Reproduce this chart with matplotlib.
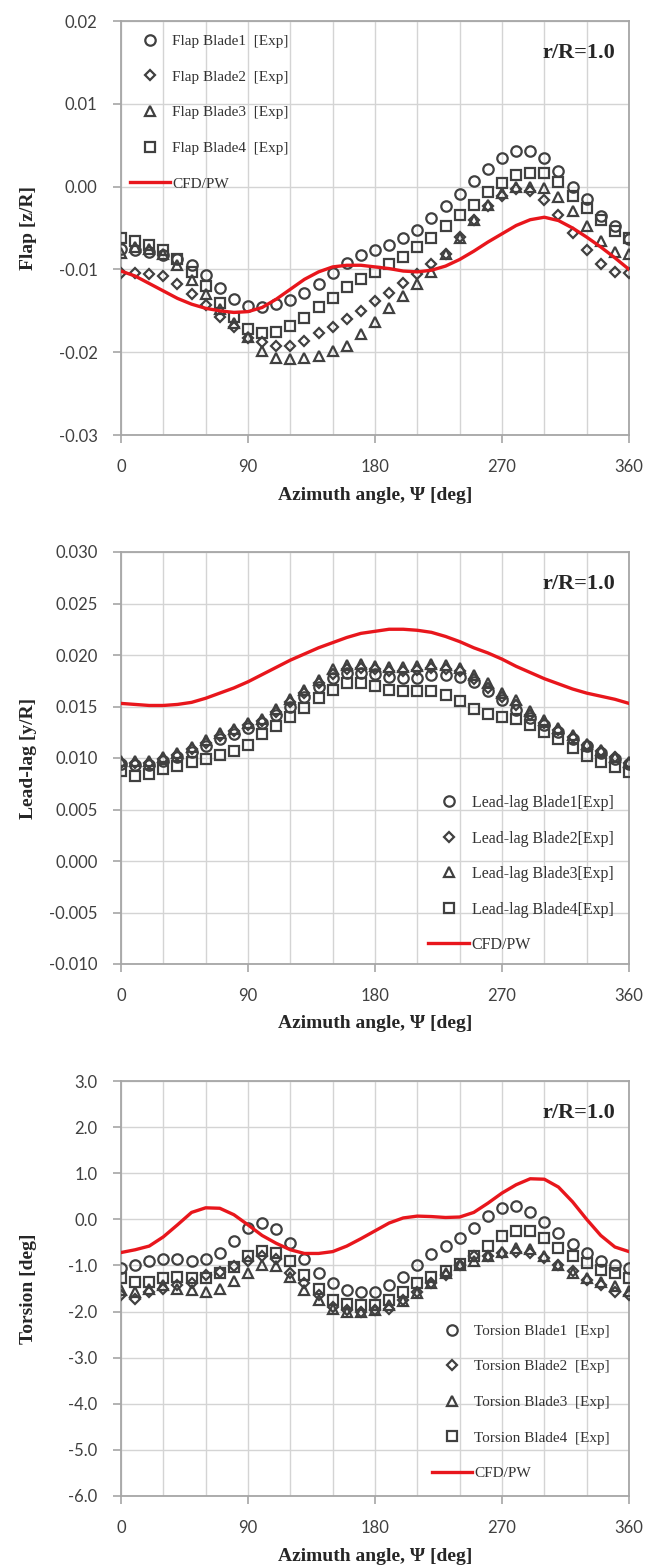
import matplotlib
matplotlib.use("Agg")
import matplotlib.pyplot as plt
from matplotlib.ticker import MultipleLocator, FormatStrFormatter
import numpy as np

# azimuth stations (deg), measured every 10 deg
psi = np.arange(0, 361, 10)

# ---- flap [z/R] ----
flap_b1 = [-0.0075, -0.0077, -0.0079, -0.0083, -0.0088, -0.0095, -0.0107, -0.0123, -0.0136, -0.0144,
           -0.0146, -0.0142, -0.0137, -0.0128, -0.0118, -0.0104, -0.0092, -0.0083, -0.0077, -0.0071,
           -0.0062, -0.0052, -0.0038, -0.0023, -0.0009, 0.0007, 0.0021, 0.0034, 0.0043, 0.0043,
           0.0034, 0.0019, -0.0001, -0.0015, -0.0036, -0.0048, -0.0063]
flap_b2 = [-0.0104, -0.0104, -0.0105, -0.0108, -0.0118, -0.0130, -0.0143, -0.0158, -0.0170, -0.0183,
           -0.0188, -0.0192, -0.0192, -0.0186, -0.0177, -0.0170, -0.0160, -0.0150, -0.0138, -0.0128,
           -0.0116, -0.0105, -0.0093, -0.0081, -0.0061, -0.0040, -0.0023, -0.0011, -0.0003, -0.0005,
           -0.0016, -0.0034, -0.0056, -0.0077, -0.0093, -0.0103, -0.0104]
flap_b3 = [-0.0080, -0.0073, -0.0075, -0.0082, -0.0095, -0.0113, -0.0130, -0.0148, -0.0165, -0.0182,
           -0.0199, -0.0207, -0.0208, -0.0207, -0.0205, -0.0199, -0.0192, -0.0178, -0.0164, -0.0147,
           -0.0132, -0.0118, -0.0103, -0.0082, -0.0062, -0.0040, -0.0022, -0.0008, 0.0000, 0.0000,
           -0.0002, -0.0013, -0.0030, -0.0048, -0.0066, -0.0079, -0.0082]
flap_b4 = [-0.0062, -0.0066, -0.0070, -0.0077, -0.0088, -0.0103, -0.0120, -0.0140, -0.0158, -0.0172,
           -0.0177, -0.0176, -0.0168, -0.0159, -0.0145, -0.0134, -0.0121, -0.0111, -0.0103, -0.0093,
           -0.0085, -0.0073, -0.0062, -0.0048, -0.0034, -0.0022, -0.0006, 0.0004, 0.0014, 0.0017,
           0.0016, 0.0006, -0.0011, -0.0026, -0.0040, -0.0054, -0.0062]
flap_cfd = [-0.0102, -0.0108, -0.0117, -0.0126, -0.0135, -0.0142, -0.0147, -0.0150, -0.0152, -0.0151,
            -0.0146, -0.0136, -0.0124, -0.0112, -0.0103, -0.0097, -0.0095, -0.0095, -0.0097, -0.0099,
            -0.0102, -0.0103, -0.0101, -0.0096, -0.0088, -0.0078, -0.0067, -0.0057, -0.0047, -0.0040,
            -0.0037, -0.0041, -0.0050, -0.0061, -0.0073, -0.0086, -0.0100]

# ---- lead-lag [y/R] ----
lag_b1 = [0.0094, 0.0093, 0.0093, 0.0097, 0.0101, 0.0106, 0.0112, 0.0118, 0.0123, 0.0129,
          0.0134, 0.0142, 0.0150, 0.0159, 0.0169, 0.0178, 0.0183, 0.0183, 0.0182, 0.0179,
          0.0178, 0.0178, 0.0181, 0.0181, 0.0179, 0.0174, 0.0165, 0.0156, 0.0147, 0.0139,
          0.0132, 0.0125, 0.0118, 0.0112, 0.0105, 0.0099, 0.0094]
lag_b2 = [0.0095, 0.0095, 0.0095, 0.0099, 0.0103, 0.0109, 0.0115, 0.0121, 0.0126, 0.0132,
          0.0136, 0.0145, 0.0154, 0.0163, 0.0173, 0.0182, 0.0186, 0.0187, 0.0186, 0.0184,
          0.0184, 0.0185, 0.0187, 0.0186, 0.0184, 0.0177, 0.0168, 0.0159, 0.0151, 0.0142,
          0.0134, 0.0127, 0.0120, 0.0113, 0.0107, 0.0101, 0.0095]
lag_b3 = [0.0097, 0.0097, 0.0097, 0.0101, 0.0105, 0.0111, 0.0117, 0.0124, 0.0128, 0.0134,
          0.0138, 0.0148, 0.0157, 0.0166, 0.0176, 0.0186, 0.0190, 0.0191, 0.0189, 0.0188,
          0.0188, 0.0189, 0.0191, 0.0190, 0.0187, 0.0181, 0.0173, 0.0163, 0.0156, 0.0146,
          0.0137, 0.0129, 0.0122, 0.0114, 0.0108, 0.0101, 0.0096]
lag_b4 = [0.0087, 0.0083, 0.0084, 0.0089, 0.0092, 0.0096, 0.0099, 0.0103, 0.0107, 0.0113,
          0.0123, 0.0131, 0.0140, 0.0149, 0.0158, 0.0166, 0.0173, 0.0173, 0.0170, 0.0166,
          0.0165, 0.0165, 0.0165, 0.0161, 0.0155, 0.0148, 0.0143, 0.0140, 0.0138, 0.0132,
          0.0125, 0.0118, 0.0110, 0.0102, 0.0096, 0.0091, 0.0086]
lag_cfd = [0.0153, 0.0152, 0.0151, 0.0151, 0.0152, 0.0154, 0.0158, 0.0163, 0.0168, 0.0174,
           0.0181, 0.0188, 0.0195, 0.0201, 0.0207, 0.0212, 0.0217, 0.0221, 0.0223, 0.0225,
           0.0225, 0.0224, 0.0222, 0.0218, 0.0213, 0.0207, 0.0202, 0.0196, 0.0189, 0.0183,
           0.0177, 0.0172, 0.0167, 0.0163, 0.0160, 0.0157, 0.0153]

# ---- torsion [deg] ----
tor_b1 = [-1.06, -1.00, -0.91, -0.87, -0.87, -0.91, -0.87, -0.73, -0.47, -0.18,
          -0.09, -0.21, -0.51, -0.87, -1.17, -1.37, -1.53, -1.57, -1.57, -1.42,
          -1.24, -0.98, -0.76, -0.58, -0.40, -0.18, 0.08, 0.25, 0.28, 0.15,
          -0.05, -0.29, -0.53, -0.73, -0.90, -1.00, -1.06]
tor_b2 = [-1.64, -1.72, -1.57, -1.50, -1.42, -1.37, -1.20, -1.15, -1.02, -0.91,
          -0.80, -0.87, -1.17, -1.39, -1.64, -1.90, -1.97, -2.00, -1.97, -1.94,
          -1.75, -1.57, -1.37, -1.20, -0.98, -0.80, -0.80, -0.73, -0.70, -0.72,
          -0.84, -0.98, -1.13, -1.31, -1.42, -1.57, -1.64]
tor_b3 = [-1.53, -1.57, -1.50, -1.42, -1.50, -1.53, -1.57, -1.50, -1.33, -1.17,
          -0.98, -1.02, -1.24, -1.53, -1.75, -1.94, -2.00, -2.00, -1.97, -1.86,
          -1.77, -1.60, -1.39, -1.17, -0.98, -0.91, -0.80, -0.70, -0.62, -0.64,
          -0.80, -1.00, -1.17, -1.28, -1.35, -1.45, -1.55]
tor_b4 = [-1.28, -1.35, -1.35, -1.28, -1.24, -1.28, -1.28, -1.17, -1.04, -0.80,
          -0.69, -0.73, -0.91, -1.20, -1.52, -1.74, -1.83, -1.86, -1.86, -1.75,
          -1.57, -1.39, -1.24, -1.13, -0.96, -0.79, -0.57, -0.36, -0.25, -0.25,
          -0.40, -0.62, -0.80, -0.95, -1.09, -1.17, -1.28]
tor_cfd = [-0.72, -0.66, -0.58, -0.38, -0.12, 0.15, 0.25, 0.24, 0.10, -0.12,
           -0.35, -0.52, -0.66, -0.74, -0.74, -0.70, -0.58, -0.42, -0.25, -0.08,
           0.03, 0.07, 0.06, 0.04, 0.05, 0.15, 0.35, 0.57, 0.75, 0.88,
           0.87, 0.70, 0.38, 0.00, -0.35, -0.60, -0.70]

markers = ['o', 'D', '^', 's']
msizes = [7.5, 5.5, 7, 7.5]
grey = '#404040'
red = '#e8161c'
serif = 'Liberation Serif'
tickfont = 'Lato'

fig = plt.figure(figsize=(6.67, 15.68), dpi=100)

panels = [
    dict(rect=[121/667, 1-435/1568, 508/667, 414/1568],
         blades=[flap_b1, flap_b2, flap_b3, flap_b4], cfd=flap_cfd,
         names=['Flap Blade1  [Exp]', 'Flap Blade2  [Exp]', 'Flap Blade3  [Exp]', 'Flap Blade4  [Exp]'],
         ylim=(-0.03, 0.02), ystep=0.01, yfmt='%.2f', ylabel='Flap [z/R]',
         leg=(0.018, 0.968), legsize=11, legspace=1.44),
    dict(rect=[121/667, 1-964/1568, 508/667, 412/1568],
         blades=[lag_b1, lag_b2, lag_b3, lag_b4], cfd=lag_cfd,
         names=['Lead-lag Blade1[Exp]', 'Lead-lag Blade2[Exp]', 'Lead-lag Blade3[Exp]', 'Lead-lag Blade4[Exp]'],
         ylim=(-0.010, 0.030), ystep=0.005, yfmt='%.3f', ylabel='Lead-lag [y/R]',
         leg=(0.604, 0.410), legsize=11.5, legspace=1.22),
    dict(rect=[121/667, 1-1496/1568, 508/667, 415/1568],
         blades=[tor_b1, tor_b2, tor_b3, tor_b4], cfd=tor_cfd,
         names=['Torsion Blade1  [Exp]', 'Torsion Blade2  [Exp]', 'Torsion Blade3  [Exp]', 'Torsion Blade4  [Exp]'],
         ylim=(-6.0, 3.0), ystep=1.0, yfmt='%.1f', ylabel='Torsion [deg]',
         leg=(0.612, 0.414), legsize=11, legspace=1.43),
]

for p in panels:
    ax = fig.add_axes(p['rect'])
    for vals, m, ms, name in zip(p['blades'], markers, msizes, p['names']):
        ax.plot(psi, vals, linestyle='none', marker=m, markersize=ms,
                markerfacecolor='none', markeredgecolor=grey, markeredgewidth=1.6,
                label=name, zorder=3)
    ax.plot(psi, p['cfd'], color=red, linewidth=2.4, label='CFD/PW', zorder=4)

    ax.set_xlim(0, 360)
    ax.set_ylim(*p['ylim'])
    ax.xaxis.set_major_locator(MultipleLocator(90))
    ax.xaxis.set_minor_locator(MultipleLocator(30))
    ax.yaxis.set_major_locator(MultipleLocator(p['ystep']))
    ax.yaxis.set_major_formatter(FormatStrFormatter(p['yfmt']))
    ax.grid(True, which='both', axis='x', color='#d4d4d4', linewidth=1.0)
    ax.grid(True, which='major', axis='y', color='#d4d4d4', linewidth=1.0)
    ax.set_axisbelow(True)
    for s in ax.spines.values():
        s.set_color('#a6a6a6')
        s.set_linewidth(1.3)
    ax.tick_params(which='major', direction='out', length=6, width=1.2, color='#a6a6a6',
                   labelsize=12, labelcolor=grey)
    ax.tick_params(axis='x', which='major', pad=11)
    ax.tick_params(axis='y', which='major', pad=11)
    ax.tick_params(which='minor', length=0)
    for lab in ax.get_xticklabels() + ax.get_yticklabels():
        lab.set_fontfamily(tickfont)

    ax.set_xlabel('Azimuth angle, \u03a8 [deg]', fontfamily=serif, fontweight='bold',
                  fontsize=14, color='#262626')
    ax.xaxis.set_label_coords(0.5, -0.125)
    ax.set_ylabel(p['ylabel'], fontfamily=serif, fontweight='bold', fontsize=14, color='#262626')
    ax.yaxis.set_label_coords(-0.165, 0.5)

    ax.text(0.973, 0.923, 'r/R=1.0', transform=ax.transAxes, ha='right', va='center',
            fontfamily=serif, fontweight='bold', fontsize=16, color='#262626')

    leg = ax.legend(loc='upper left', bbox_to_anchor=p['leg'], frameon=False,
                    borderpad=0, borderaxespad=0, handlelength=2.6, handletextpad=0.15,
                    labelspacing=p['legspace'], prop={'family': serif, 'size': p['legsize']})
    for t in leg.get_texts():
        t.set_color('#333333')

fig.savefig('out.png', dpi=100)
